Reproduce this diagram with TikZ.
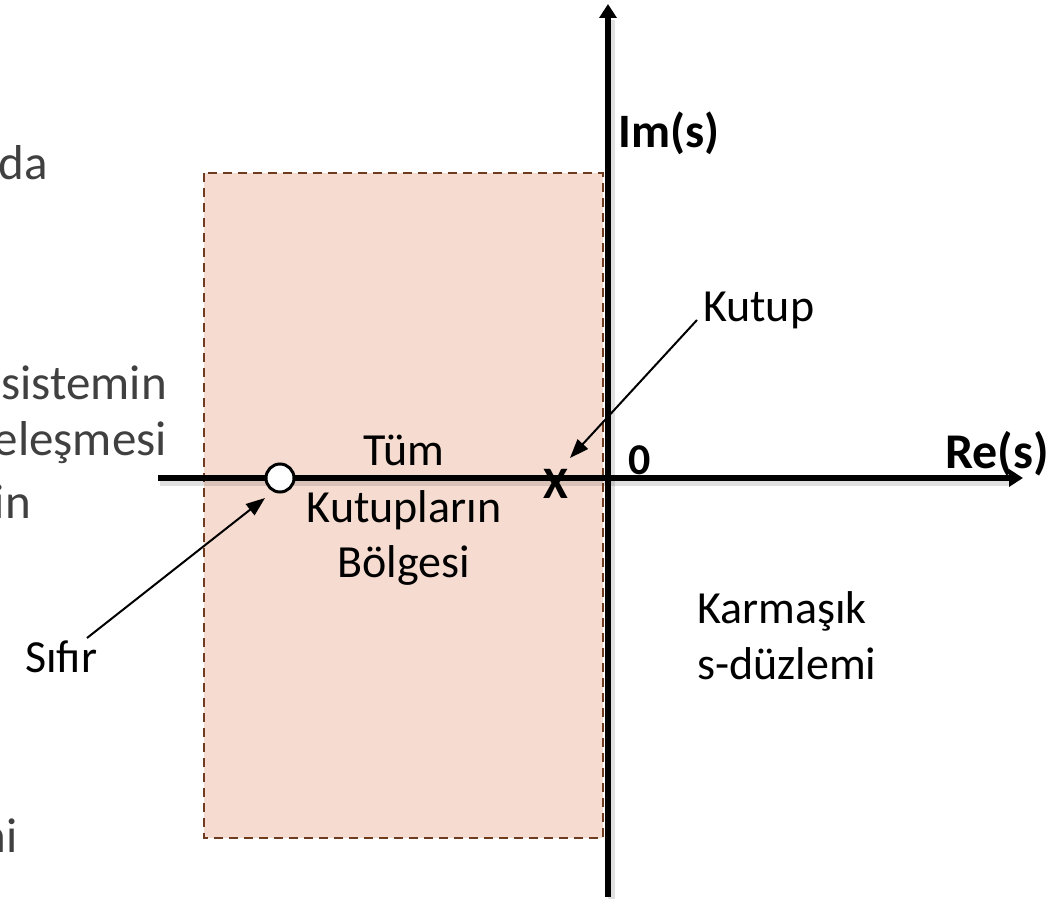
\documentclass[tikz,border=0pt]{standalone}
\usepackage{fontspec}
\setmainfont{Carlito}
\usetikzlibrary{arrows.meta}
\definecolor{regionfill}{HTML}{F6DCD0}
\definecolor{regionedge}{HTML}{6E3B1E}
\definecolor{slidegray}{HTML}{404040}
\tikzset{
  lbl/.style={inner sep=0pt, font=\fontsize{46}{56}\selectfont, text=black},
  boldlbl/.style={inner sep=0pt, font=\fontsize{48}{56}\selectfont\bfseries, text=black},
  slidetxt/.style={inner sep=0pt, font=\fontsize{49}{58}\selectfont, text=slidegray, anchor=base east},
  axisline/.style={line width=5.5pt, -{Triangle[length=14pt,width=17pt]}},
  axisshadow/.style={line width=7pt, draw=black, opacity=0.12},
  pointer/.style={line width=2pt, -{Triangle[length=19pt,width=14pt]}},
}
\begin{document}
\begin{tikzpicture}[x=1pt,y=-1pt]
\useasboundingbox (0,0) rectangle (1053,901);
% region
\fill[regionfill] (204,173) rectangle (603,838);
\draw[regionedge, line width=2.5pt, dash pattern=on 9pt off 6pt] (204,173) rectangle (603,838);
% axes shadows
\draw[axisshadow] (160,482) -- (1010,482);
\draw[axisshadow] (611,20) -- (611,899);
% axes
\coordinate (reStart) at (158,478);
\coordinate (reEnd) at (1023,478);
\coordinate (imStart) at (608,897);
\coordinate (imEnd) at (608,4);
\draw[axisline] (reStart) -- (reEnd);
\draw[axisline] (imStart) -- (imEnd);
% zero (circle) and pole
\node[circle, draw=black, fill=white, line width=3pt, minimum size=28pt, inner sep=0pt] (zero) at (280,478) {};
\node[inner sep=0pt, anchor=base west, font=\fontsize{45}{50}\selectfont\bfseries] (pole) at (543,498) {X};
% axis labels
\node[boldlbl, anchor=base west] (im) at (618,148) {Im(s)};
\node[boldlbl, anchor=base west, font=\fontsize{50}{56}\selectfont\bfseries] (re) at (945,468) {Re(s)};
\node[inner sep=0pt, anchor=base west, font=\fontsize{44}{50}\selectfont\bfseries] (origin) at (628,474) {0};
% region labels
\node[lbl, anchor=base] (tum) at (404,465) {Tüm};
\node[lbl, anchor=base] (kutuplarin) at (404,522) {Kutupların};
\node[lbl, anchor=base] (bolgesi) at (404,577) {Bölgesi};
% other labels
\node[lbl, anchor=base west] (kutup) at (703,322) {Kutup};
\node[lbl, anchor=base west] (sifir) at (25,672) {Sıfır};
\node[lbl, anchor=base west] (karmasik) at (697,623) {Karmaşık};
\node[lbl, anchor=base west] (duzlem) at (697,679) {s-düzlemi};
% pointers
\coordinate (kutupTail) at (697,320);
\coordinate (poleTip) at (570,458);
\coordinate (sifirTail) at (87,638);
\coordinate (zeroTip) at (265,498);
\draw[pointer] (kutupTail) -- (poleTip);
\draw[pointer] (sifirTail) -- (zeroTip);
% cut-off slide text on the left
\node[slidetxt] (t1) at (48,180) {da};
\node[slidetxt] (t2) at (167,400) {sistemin};
\node[slidetxt] (t3) at (167,455) {eleşmesi};
\node[slidetxt] (t4) at (31,518) {in};
\node[slidetxt] (t5) at (18,852) {ni};
\end{tikzpicture}
\end{document}
